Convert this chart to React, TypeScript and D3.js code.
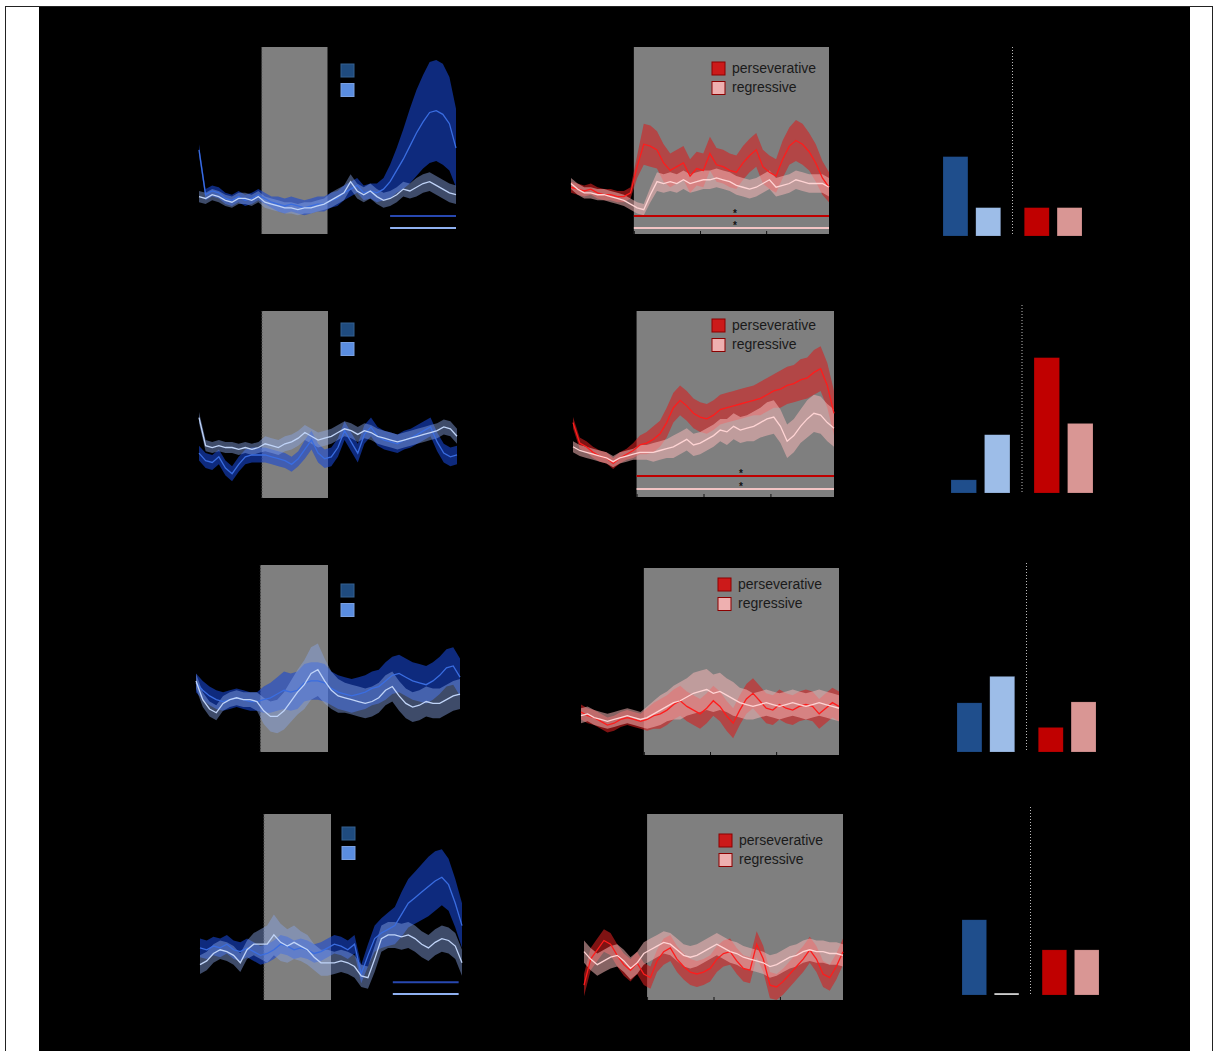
import React from 'react';
import * as d3 from 'd3';

// time bins (s, relative to cue onset), 0.1 s each
const timeBins = d3.range(40).map(i => -0.95 + i * 0.1);
const cueWindow = [0, 1.0];

// ---- row 1 ----
const r1DarkMean = [45, 21, 23, 22, 19, 18, 20, 18, 19, 21, 19, 17, 16, 15, 16, 15, 14, 15, 16, 16, 18, 19, 22, 24, 26, 22, 23, 22, 24, 28, 34, 40, 47, 54, 60, 65, 66, 64, 59, 46];
const r1DarkSem = [3, 3, 3, 3, 3, 3, 3, 3, 3, 3, 3, 3, 4, 4, 4, 4, 4, 4, 4, 4, 4, 4, 4, 4, 4, 4, 4, 5, 6, 9, 12, 16, 20, 23, 25, 27, 27, 27, 25, 21];
const r1LightMean = [20, 19, 21, 20, 18, 17, 19, 19, 18, 20, 17, 16, 15, 14, 14, 13, 14, 14, 15, 16, 18, 20, 22, 28, 23, 21, 23, 20, 18, 19, 21, 24, 23, 25, 27, 28, 26, 24, 22, 21];
const r1LightSem = [3, 3, 3, 3, 3, 3, 3, 3, 3, 3, 3, 3, 3, 3, 3, 3, 3, 3, 3, 3, 4, 4, 4, 4, 4, 4, 4, 4, 4, 4, 4, 4, 4, 5, 5, 5, 5, 5, 5, 5];
const r1PersMean = [25, 24, 23, 24, 22, 21, 21, 20, 20, 22, 36, 48, 47, 45, 38, 34, 36, 38, 31, 35, 34, 43, 37, 36, 34, 33, 38, 42, 45, 36, 33, 31, 40, 47, 50, 48, 44, 38, 30, 25];
const r1PersSem = [3, 3, 3, 3, 3, 3, 3, 3, 3, 3, 6, 11, 11, 10, 10, 9, 9, 9, 9, 9, 9, 9, 9, 9, 9, 9, 9, 9, 9, 9, 9, 9, 10, 10, 11, 11, 10, 10, 9, 8];
const r1RegrMean = [27, 24, 22, 22, 21, 21, 20, 19, 18, 16, 14, 13, 21, 28, 27, 28, 27, 29, 27, 28, 29, 29, 30, 29, 28, 26, 25, 24, 25, 27, 29, 25, 26, 27, 29, 28, 27, 27, 27, 25];
const r1RegrSem = [3, 3, 3, 3, 3, 3, 3, 3, 3, 3, 3, 3, 4, 5, 5, 5, 5, 5, 5, 5, 5, 5, 5, 5, 5, 5, 5, 5, 5, 5, 5, 5, 5, 5, 5, 5, 5, 5, 5, 5];
const r1Bars = [4.2, 1.5, 1.5, 1.5];

// ---- row 2 ----
const r2DarkMean = [24, 20, 19, 22, 16, 13, 18, 22, 23, 23, 23, 22, 21, 20, 18, 21, 26, 31, 24, 21, 22, 27, 36, 30, 24, 34, 38, 33, 31, 30, 29, 31, 32, 34, 36, 38, 30, 24, 22, 23];
const r2DarkSem = [4, 4, 4, 4, 4, 4, 4, 4, 4, 4, 4, 4, 4, 4, 4, 4, 5, 5, 5, 5, 5, 5, 5, 5, 5, 5, 5, 5, 5, 5, 5, 5, 5, 5, 5, 5, 5, 5, 5, 5];
const r2LightMean = [43, 28, 27, 28, 27, 27, 26, 27, 26, 27, 29, 28, 27, 29, 30, 32, 35, 33, 31, 32, 33, 35, 37, 36, 34, 36, 35, 33, 32, 31, 30, 31, 32, 33, 34, 35, 36, 38, 37, 33];
const r2LightSem = [3, 3, 3, 3, 3, 3, 3, 3, 3, 3, 4, 4, 4, 4, 4, 4, 4, 4, 4, 4, 4, 4, 4, 4, 4, 4, 4, 4, 4, 4, 4, 4, 4, 4, 4, 4, 4, 4, 4, 4];
const r2PersMean = [40, 29, 27, 24, 22, 21, 18, 21, 23, 25, 28, 29, 31, 34, 40, 48, 52, 49, 45, 43, 42, 44, 47, 48, 49, 50, 51, 52, 53, 55, 57, 58, 60, 61, 63, 64, 67, 69, 60, 45];
const r2PersSem = [3, 3, 3, 3, 3, 3, 3, 3, 3, 4, 5, 6, 7, 7, 8, 8, 8, 8, 8, 8, 8, 8, 8, 8, 8, 8, 8, 8, 9, 9, 9, 10, 10, 10, 11, 11, 12, 12, 12, 12];
const r2RegrMean = [27, 25, 24, 23, 22, 21, 19, 21, 22, 23, 24, 24, 24, 25, 26, 27, 29, 31, 28, 29, 31, 33, 36, 35, 38, 36, 37, 38, 40, 42, 43, 38, 30, 33, 38, 42, 45, 44, 40, 37];
const r2RegrSem = [3, 3, 3, 3, 3, 3, 3, 3, 3, 3, 4, 4, 5, 5, 5, 6, 6, 6, 6, 6, 6, 6, 6, 7, 7, 7, 7, 8, 8, 9, 9, 9, 9, 9, 9, 10, 10, 10, 10, 10];
const r2Bars = [0.7, 3.1, 7.2, 3.7];

// ---- row 3 ----
const r3DarkMean = [37, 33, 30, 28, 27, 28, 29, 28, 27, 27, 28, 29, 31, 33, 32, 33, 37, 38, 38, 37, 34, 32, 31, 30, 31, 32, 34, 35, 38, 41, 42, 40, 38, 37, 36, 38, 41, 45, 46, 40];
const r3DarkSem = [5, 5, 5, 5, 5, 5, 5, 5, 5, 5, 7, 8, 9, 10, 10, 10, 10, 10, 10, 10, 9, 9, 9, 9, 9, 9, 9, 9, 10, 10, 10, 10, 10, 10, 10, 10, 10, 10, 10, 10];
const r3LightMean = [38, 28, 23, 21, 26, 28, 29, 28, 28, 27, 22, 19, 19, 22, 27, 32, 36, 42, 44, 38, 33, 30, 29, 28, 27, 26, 27, 29, 33, 35, 30, 26, 24, 25, 27, 26, 26, 28, 30, 31];
const r3LightSem = [4, 4, 4, 4, 4, 4, 4, 4, 4, 5, 7, 8, 9, 10, 11, 12, 13, 14, 14, 12, 10, 9, 8, 8, 8, 8, 8, 8, 8, 8, 8, 8, 8, 8, 8, 8, 8, 8, 8, 8];
const r3PersMean = [23, 21, 20, 18, 16, 17, 19, 20, 19, 18, 19, 21, 22, 24, 27, 29, 26, 24, 22, 25, 29, 26, 21, 17, 24, 30, 33, 29, 25, 24, 27, 25, 24, 26, 27, 26, 22, 25, 28, 26];
const r3PersSem = [4, 4, 4, 4, 4, 4, 4, 4, 4, 4, 6, 7, 8, 8, 8, 8, 8, 8, 8, 8, 8, 8, 8, 8, 8, 8, 8, 8, 8, 8, 8, 8, 8, 8, 8, 8, 8, 8, 8, 8];
const r3RegrMean = [21, 22, 20, 19, 18, 19, 20, 21, 20, 19, 20, 22, 24, 26, 28, 29, 31, 33, 34, 35, 33, 34, 32, 30, 28, 27, 26, 27, 28, 27, 26, 27, 28, 27, 26, 27, 28, 27, 26, 25];
const r3RegrSem = [4, 4, 4, 4, 4, 4, 4, 4, 4, 4, 6, 7, 8, 8, 9, 10, 10, 11, 11, 11, 10, 10, 9, 9, 8, 8, 7, 7, 7, 7, 7, 7, 7, 7, 7, 7, 7, 7, 7, 7];
const r3Bars = [2.6, 4.0, 1.3, 2.65];

// ---- row 4 ----
const r4DarkMean = [28, 27, 29, 28, 30, 27, 26, 28, 26, 24, 25, 27, 30, 29, 27, 28, 27, 25, 26, 28, 30, 29, 27, 30, 14, 24, 33, 36, 38, 40, 46, 52, 55, 58, 61, 64, 66, 62, 52, 40];
const r4DarkSem = [5, 5, 5, 5, 5, 5, 5, 5, 5, 5, 5, 5, 5, 5, 5, 5, 5, 5, 5, 5, 5, 5, 5, 5, 5, 6, 7, 8, 9, 10, 12, 13, 14, 15, 16, 16, 15, 14, 13, 12];
const r4LightMean = [19, 21, 25, 27, 26, 24, 20, 27, 30, 30, 30, 35, 31, 29, 31, 29, 27, 23, 20, 20, 20, 21, 20, 18, 13, 12, 22, 33, 35, 35, 34, 35, 33, 30, 28, 31, 33, 32, 29, 20];
const r4LightSem = [5, 5, 5, 5, 5, 5, 5, 5, 6, 8, 10, 11, 10, 9, 9, 8, 8, 7, 7, 7, 6, 6, 6, 6, 6, 6, 7, 7, 7, 7, 7, 7, 7, 7, 7, 7, 7, 7, 7, 7];
const r4PersMean = [8, 22, 27, 32, 30, 24, 19, 16, 20, 14, 12, 21, 26, 28, 22, 18, 15, 14, 15, 17, 22, 25, 26, 21, 17, 16, 30, 22, 8, 7, 10, 14, 18, 22, 27, 22, 14, 12, 18, 26];
const r4PersSem = [6, 6, 6, 6, 6, 6, 6, 6, 6, 6, 6, 6, 7, 7, 7, 7, 7, 7, 7, 7, 7, 7, 7, 7, 7, 7, 7, 7, 7, 7, 7, 7, 7, 7, 7, 7, 7, 7, 7, 7];
const r4RegrMean = [26, 22, 19, 21, 23, 24, 21, 17, 20, 25, 27, 29, 31, 30, 27, 24, 23, 24, 26, 28, 30, 28, 26, 25, 23, 22, 21, 20, 18, 19, 21, 23, 24, 26, 27, 26, 26, 25, 25, 24];
const r4RegrSem = [6, 6, 6, 6, 6, 6, 6, 6, 6, 6, 6, 6, 6, 6, 6, 6, 6, 6, 6, 6, 6, 6, 6, 6, 6, 6, 6, 6, 6, 6, 6, 6, 6, 6, 6, 6, 6, 6, 6, 6];
const r4Bars = [4.0, 0.1, 2.4, 2.4];

// significance bars: [start, end] in s, level on the y scale
const r1BlueSig = [1.95, 2.95];
const r4BlueSig = [1.92, 2.9];
const redSig = [0, 2.95];
const blueSigLevels = [9.6, 3.2];
const r1RedSigLevels = [9.6, 3.2];
const r2RedSigLevels = [11.3, 4.3];
const r1StarTime = 1.53;
const r2StarTime = 1.56;

const legendLabels = ['perseverative', 'regressive'];
const barKeys = ['dark', 'light', 'perseverative', 'regressive'];

const blueStyle = [
  { band: '#1846d0', bandOpacity: 0.6, line: '#3a6de0', legend: '#1f4b7e', legendStroke: '#35608f', sig: '#2848b0' },
  { band: '#8aa6e8', bandOpacity: 0.45, line: '#c0d4f8', legend: '#5a8de0', legendStroke: '#7aa0e0', sig: '#8fb0f0' },
];
const redStyle = [
  { band: '#d42020', bandOpacity: 0.6, line: '#ff1c1c', legend: '#cc1a1a', legendStroke: '#8b0000', sig: '#c00000' },
  { band: '#f4b4b4', bandOpacity: 0.55, line: '#ffd4d4', legend: '#eeb0b0', legendStroke: '#8b0000', sig: '#f2c4c4' },
];
const barColors = ['#1f4e8c', '#9dbde8', '#c00000', '#d99694'];

type Box = { x0: number; x1: number; top: number; bottom: number; lx: number; ly: number };
type Series = { mean: number[]; sem: number[] };

const TracePanel = ({ box, series, styles, open, labels, sig, sigLevels, starTime }: {
  box: Box; series: Series[]; styles: typeof blueStyle; open: boolean; labels?: string[];
  sig?: number[]; sigLevels?: number[]; starTime?: number;
}) => {
  const x = d3.scaleLinear().domain([timeBins[0], timeBins[timeBins.length - 1]]).range([box.x0, box.x1]);
  const y = d3.scaleLinear().domain([0, 100]).range([box.bottom, box.top]);
  const winEnd = open ? box.x1 : x(cueWindow[1]);

  const band = (s: Series) => d3.area<number>()
    .x((_, i) => x(timeBins[i]))
    .y0((d, i) => y(d - s.sem[i]))
    .y1((d, i) => y(d + s.sem[i]))(s.mean) || '';
  const line = (s: Series) => d3.line<number>()
    .x((_, i) => x(timeBins[i]))
    .y(d => y(d))(s.mean) || '';

  const axisRef = React.useRef<SVGGElement>(null);
  React.useEffect(() => {
    if (!open || !axisRef.current) return;
    const g = d3.select(axisRef.current);
    g.selectAll('*').remove();
    g.call(d3.axisBottom(x).tickValues([0, 1, 2]).tickSize(-3).tickFormat(() => ''));
    g.select('.domain').attr('stroke', '#000');
    g.selectAll('.tick line').attr('stroke', '#111');
  });

  return (
    <g>
      <rect x={x(cueWindow[0])} y={box.top} width={winEnd - x(cueWindow[0])} height={box.bottom - box.top} fill="#7f7f7f" />
      {!open && (
        <line x1={x(cueWindow[0])} x2={x(cueWindow[0])} y1={box.top} y2={box.bottom} stroke="#3a3a3a" strokeDasharray="1,2" />
      )}
      {series.map((s, k) => (
        <path key={'b' + k} d={band(s)} fill={styles[k].band} fillOpacity={styles[k].bandOpacity} />
      ))}
      {series.map((s, k) => (
        <path key={'l' + k} d={line(s)} fill="none" stroke={styles[k].line} strokeWidth={1.3} />
      ))}
      {sig && sigLevels && sigLevels.map((lv, k) => (
        <line key={'s' + k} x1={x(sig[0])} x2={x(sig[1])} y1={y(lv)} y2={y(lv)} stroke={styles[k].sig} strokeWidth={2} />
      ))}
      {starTime !== undefined && sigLevels && sigLevels.map((lv, k) => (
        <text key={'t' + k} x={x(starTime)} y={y(lv) + 1} textAnchor="middle" fontFamily="Liberation Sans, Arial, sans-serif"
          fontSize={10} fontWeight="bold" fill="#111">*</text>
      ))}
      {open && <g ref={axisRef} transform={`translate(0,${box.bottom})`} />}
      {styles.map((st, k) => (
        <g key={'lg' + k}>
          <rect x={box.lx} y={box.ly + k * 19.5} width={13} height={13} fill={st.legend} stroke={st.legendStroke} strokeWidth={1} />
          {labels && (
            <text x={box.lx + 20} y={box.ly + k * 19.5 + 7} dominantBaseline="middle" fontFamily="Liberation Sans, Arial, sans-serif" fontSize={14} fill="#1a1a1a">{labels[k]}</text>
          )}
        </g>
      ))}
    </g>
  );
};

const BarPanel = ({ box, values }: { box: { x0: number; x1: number; top: number; bottom: number }; values: number[] }) => {
  const outer = d3.scaleBand().domain(['blue', 'red']).range([box.x0, box.x1]).paddingInner(0.29);
  const inner = d3.scaleBand().domain(['a', 'b']).range([0, outer.bandwidth()]).paddingInner(0.24);
  const y = d3.scaleLinear().domain([0, 10]).range([box.bottom, box.top]);
  const divider = ((outer('blue') ?? 0) + outer.bandwidth() + (outer('red') ?? 0)) / 2;
  return (
    <g>
      <line x1={divider} x2={divider} y1={box.top} y2={box.bottom} stroke="#bbbbbb" strokeWidth={1} strokeDasharray="1,2" />
      {values.map((v, i) => {
        const grp = i < 2 ? 'blue' : 'red';
        const bx = (outer(grp) ?? 0) + (inner(i % 2 === 0 ? 'a' : 'b') ?? 0);
        return (
          <rect key={barKeys[i]} x={bx} y={y(v)} width={inner.bandwidth()} height={box.bottom - y(v)}
            fill={i === 1 && v < 0.5 ? '#dddddd' : barColors[i]} stroke="#000" strokeOpacity={0.3} strokeWidth={0.5} />
        );
      })}
    </g>
  );
};

const blueBoxes: Box[] = [
  { x0: 199, x1: 456, top: 47, bottom: 234, lx: 341, ly: 64 },
  { x0: 199, x1: 457, top: 311, bottom: 498, lx: 341, ly: 323 },
  { x0: 196, x1: 460, top: 565, bottom: 752, lx: 341, ly: 584 },
  { x0: 200, x1: 462, top: 814, bottom: 1000, lx: 342, ly: 827 },
];
const redBoxes: Box[] = [
  { x0: 571, x1: 829, top: 47, bottom: 234, lx: 712, ly: 62 },
  { x0: 573, x1: 834, top: 311, bottom: 497, lx: 712, ly: 319 },
  { x0: 581, x1: 839, top: 568, bottom: 755, lx: 718, ly: 578 },
  { x0: 584, x1: 843, top: 814, bottom: 1000, lx: 719, ly: 834 },
];
const barBoxes = [
  { x0: 943, x1: 1082, top: 47, bottom: 236 },
  { x0: 951, x1: 1093, top: 305, bottom: 493 },
  { x0: 957, x1: 1096, top: 563, bottom: 752 },
  { x0: 962, x1: 1099, top: 807, bottom: 995 },
];

const blueRows: Series[][] = [
  [{ mean: r1DarkMean, sem: r1DarkSem }, { mean: r1LightMean, sem: r1LightSem }],
  [{ mean: r2DarkMean, sem: r2DarkSem }, { mean: r2LightMean, sem: r2LightSem }],
  [{ mean: r3DarkMean, sem: r3DarkSem }, { mean: r3LightMean, sem: r3LightSem }],
  [{ mean: r4DarkMean, sem: r4DarkSem }, { mean: r4LightMean, sem: r4LightSem }],
];
const redRows: Series[][] = [
  [{ mean: r1PersMean, sem: r1PersSem }, { mean: r1RegrMean, sem: r1RegrSem }],
  [{ mean: r2PersMean, sem: r2PersSem }, { mean: r2RegrMean, sem: r2RegrSem }],
  [{ mean: r3PersMean, sem: r3PersSem }, { mean: r3RegrMean, sem: r3RegrSem }],
  [{ mean: r4PersMean, sem: r4PersSem }, { mean: r4RegrMean, sem: r4RegrSem }],
];
const barRows = [r1Bars, r2Bars, r3Bars, r4Bars];
const blueSigs = [r1BlueSig, undefined, undefined, r4BlueSig];
const redSigLevels = [r1RedSigLevels, r2RedSigLevels, undefined, undefined];
const starTimes = [r1StarTime, r2StarTime, undefined, undefined];

export default function App() {
  return (
    <svg width={1218} height={1051} style={{ position: 'absolute', left: 0, top: 0 }}>
      <rect x={0} y={0} width={1218} height={1051} fill="#ffffff" />
      <rect x={5.5} y={6.5} width={1207} height={1050} fill="none" stroke="#222" strokeWidth={1} />
      <rect x={39} y={7} width={1151} height={1044} fill="#000000" />
      {[0, 1, 2, 3].map(r => (
        <g key={r}>
          <TracePanel box={blueBoxes[r]} series={blueRows[r]} styles={blueStyle} open={false}
            sig={blueSigs[r]} sigLevels={blueSigs[r] ? blueSigLevels : undefined} />
          <TracePanel box={redBoxes[r]} series={redRows[r]} styles={redStyle} open={true} labels={legendLabels}
            sig={redSigLevels[r] ? redSig : undefined} sigLevels={redSigLevels[r]} starTime={starTimes[r]} />
          <BarPanel box={barBoxes[r]} values={barRows[r]} />
        </g>
      ))}
    </svg>
  );
}
